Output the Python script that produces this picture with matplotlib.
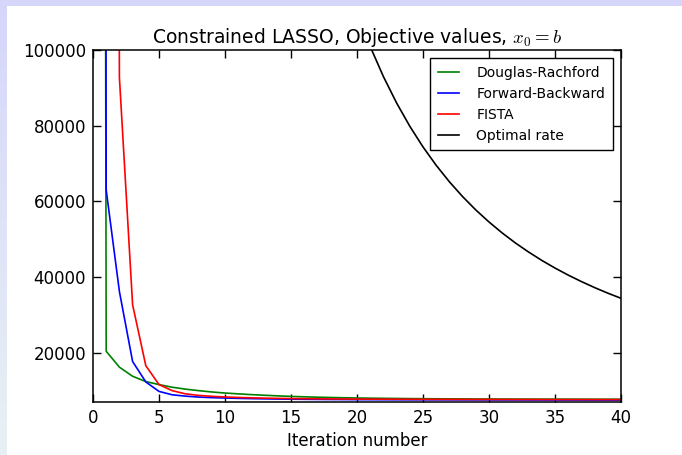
import matplotlib
matplotlib.use("Agg")
import matplotlib.pyplot as plt
import numpy as np

# objective values per iteration (iteration 0 = starting point, far off the chart)
iters = list(range(0, 41))
douglas_rachford = [2.0e6, 20400, 16200, 13800, 12400, 11600, 10900, 10400, 10000, 9650,
                    9370, 9150, 8950, 8780, 8620, 8480, 8370, 8270, 8190, 8120,
                    8060, 8010, 7970, 7930, 7900, 7870, 7850, 7830, 7815, 7800,
                    7790, 7780, 7770, 7765, 7760, 7755, 7750, 7745, 7740, 7735, 7730]
forward_backward = [2.5e6, 63000, 36200, 17700, 12300, 9800, 8900, 8550, 8300, 8150,
                    8050, 7960, 7890, 7830, 7780, 7740, 7710, 7680, 7660, 7640,
                    7620, 7610, 7600, 7590, 7580, 7575, 7570, 7565, 7560, 7555,
                    7550, 7545, 7540, 7535, 7530, 7525, 7520, 7515, 7510, 7505, 7500]
fista = [3.0e6, 1.5e6, 92800, 32700, 16600, 11600, 10000, 9150, 8750, 8500,
         8330, 8200, 8100, 8020, 7960, 7910, 7870, 7840, 7810, 7790,
         7770, 7755, 7740, 7730, 7720, 7710, 7700, 7695, 7690, 7685,
         7680, 7675, 7670, 7665, 7660, 7655, 7650, 7650, 7645, 7645, 7640]
rate_iters = list(range(20, 41))
optimal_rate = [110040, 100930, 92980, 86010, 79850, 74390, 69530, 65180, 61270, 57740,
                54560, 51660, 49020, 46620, 44410, 42390, 40530, 38820, 37230, 35760, 34400]

plt.rcParams['mathtext.fontset'] = 'cm'
plt.rcParams['font.family'] = 'DejaVu Sans'

fig = plt.figure(figsize=(6.82, 4.55), dpi=100)
fig.patch.set_facecolor('white')

# slide frame behind the plot: lavender strip on top, gradient strip on the left
bg = fig.add_axes([0, 0, 1, 1], zorder=-1)
bg.set_xlim(0, 682)
bg.set_ylim(455, 0)
bg.axis('off')
top_col = np.array([214, 214, 250]) / 255.0
bot_col = np.array([231, 241, 244]) / 255.0
t = np.linspace(0, 1, 256)[:, None]
grad = (top_col[None, :] * (1 - t) + bot_col[None, :] * t)[:, None, :]
bg.imshow(grad, extent=[0, 7, 455, 0], aspect='auto')
bg.add_patch(plt.Rectangle((0, 0), 682, 6, color=top_col, lw=0))

ax = fig.add_axes([93 / 682, 1 - 402 / 455, 528 / 682, 352 / 455])
ax.plot(iters, douglas_rachford, color=(0, 0.5, 0), lw=1.2, label='Douglas-Rachford')
ax.plot(iters, forward_backward, color='blue', lw=1.2, label='Forward-Backward')
ax.plot(iters, fista, color='red', lw=1.2, label='FISTA')
ax.plot(rate_iters, optimal_rate, color='black', lw=1.2, label='Optimal rate')

ax.set_xlim(0, 40)
ax.set_ylim(7000, 100000)
ax.set_xticks(range(0, 41, 5))
ax.set_yticks(range(20000, 100001, 20000))
ax.tick_params(direction='in', top=True, right=True, length=5.5, width=1, labelsize=12, pad=5)
for s in ax.spines.values():
    s.set_linewidth(1.1)

ax.set_title('Constrained LASSO, Objective values, $x_0=b$', fontsize=13.5, pad=5)
ax.set_xlabel('Iteration number', fontsize=12)

leg = ax.legend(loc='upper right', fontsize=10, fancybox=False, framealpha=1,
                borderaxespad=0.6, handlelength=1.55, handletextpad=1.2,
                borderpad=0.55, labelspacing=0.5)
leg.get_frame().set_edgecolor('black')
leg.get_frame().set_linewidth(1.0)

fig.savefig('out.png', dpi=100)
